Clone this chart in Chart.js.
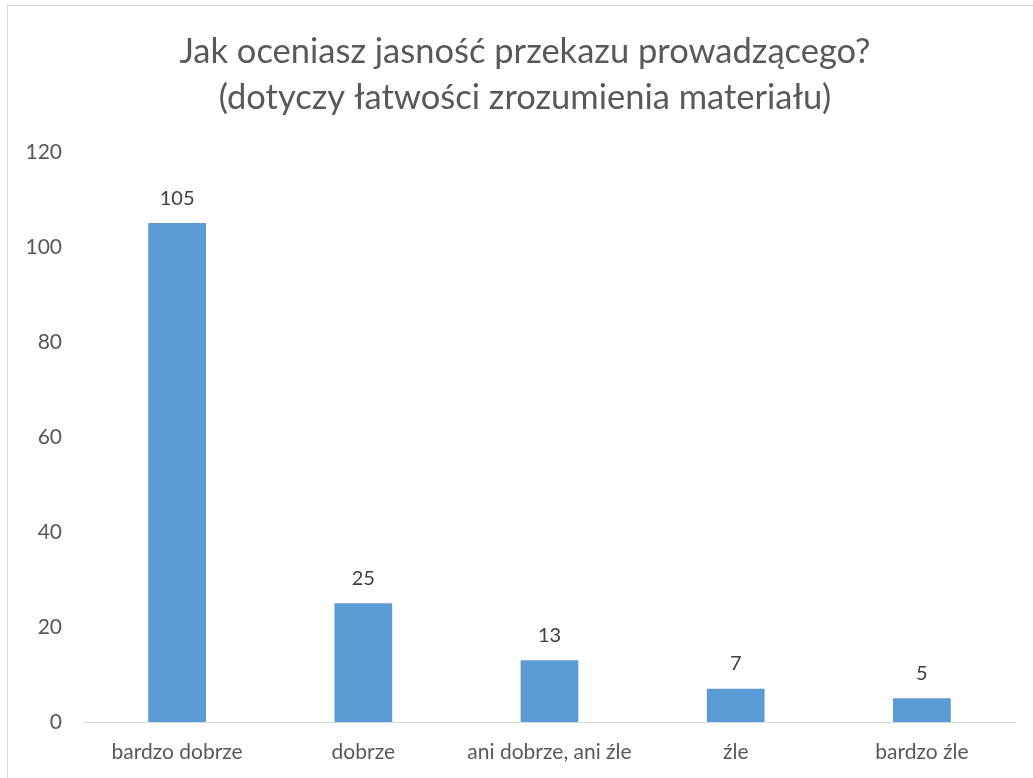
<!DOCTYPE html>
<html lang="pl">
<head>
    <meta charset="UTF-8">
    <title>Jak oceniasz jasność przekazu prowadzącego?</title>
    <style>
        body {
            margin: 0;
            background: #fff;
        }

        #frame {
            position: absolute;
            left: 7px;
            top: 5px;
            width: 1100px;
            height: 800px;
            border-left: 1px solid #d9d9d9;
            border-top: 1px solid #d9d9d9;
        }

        #wrap {
            position: absolute;
            left: 0;
            top: 0;
            width: 1033px;
            height: 778px;
        }
    </style>
    <script src="https://cdn.jsdelivr.net/npm/chart.js"></script>
</head>
<body>
    <div id="frame"></div>
    <div id="wrap">
        <canvas id="chart" width="1033" height="778"></canvas>
    </div>

    <script>
        // dane z wykresu
        const titleLines = ['Jak oceniasz jasność przekazu prowadzącego?', '(dotyczy łatwości zrozumienia materiału)'];
        const categories = ['bardzo dobrze', 'dobrze', 'ani dobrze, ani źle', 'źle', 'bardzo źle'];
        const counts = [105, 25, 13, 7, 5];
        const yTicks = [0, 20, 40, 60, 80, 100, 120];

        const fontFam = 'Lato, "Open Sans", sans-serif';

        // etykiety nad słupkami
        const valueLabels = {
            id: 'valueLabels',
            afterDatasetsDraw(chart) {
                const ctx = chart.ctx;
                const meta = chart.getDatasetMeta(0);
                ctx.save();
                ctx.font = '20px ' + fontFam;
                ctx.fillStyle = '#404040';
                ctx.textAlign = 'center';
                ctx.textBaseline = 'middle';
                meta.data.forEach((bar, i) => {
                    ctx.fillText(counts[i], bar.x, bar.y - 25);
                });
                ctx.restore();
            }
        };

        // tytuł lekko przesunięty w prawo, jak w oryginale
        const shiftTitle = {
            id: 'shiftTitle',
            afterLayout(chart) {
                if (chart.titleBlock) {
                    chart.titleBlock.left = 35;
                    chart.titleBlock.right = 1015;
                }
            }
        };

        const ctx = document.getElementById('chart').getContext('2d');
        const chart = new Chart(ctx, {
            type: 'bar',
            data: {
                labels: categories,
                datasets: [{
                    data: counts,
                    backgroundColor: '#5b9bd5',
                    borderWidth: 0,
                    categoryPercentage: 1,
                    barPercentage: 0.31
                }]
            },
            options: {
                responsive: false,
                animation: false,
                layout: {
                    padding: { left: 0, right: 18, top: 0, bottom: 0 }
                },
                plugins: {
                    legend: { display: false },
                    tooltip: { enabled: false },
                    title: {
                        display: true,
                        text: titleLines,
                        color: '#595959',
                        font: { family: fontFam, size: 34.5, weight: 'normal', lineHeight: 1.33 },
                        padding: { top: 29, bottom: 31 }
                    }
                },
                scales: {
                    x: {
                        grid: { display: false },
                        border: { display: true, color: '#d9d9d9', width: 1 },
                        ticks: {
                            color: '#595959',
                            font: { family: fontFam, size: 21 },
                            padding: 10,
                            maxRotation: 0
                        },
                        afterFit(scale) {
                            scale.height = 56;
                        }
                    },
                    y: {
                        min: 0,
                        max: 120,
                        afterBuildTicks(scale) {
                            scale.ticks = yTicks.map(v => ({ value: v }));
                        },
                        grid: { display: false },
                        border: { display: false },
                        ticks: {
                            color: '#595959',
                            font: { family: fontFam, size: 21 },
                            padding: 14
                        },
                        afterFit(scale) {
                            scale.width = 84;
                        }
                    }
                }
            },
            plugins: [valueLabels, shiftTitle]
        });
    </script>
</body>
</html>
